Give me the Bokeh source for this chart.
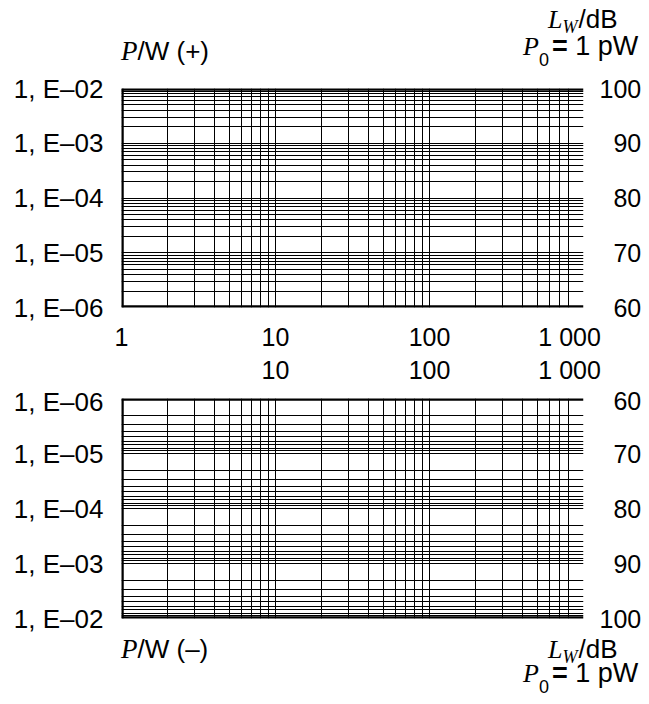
from bokeh.plotting import figure
from bokeh.models import (LogAxis, LinearAxis, Range1d, FixedTicker, Span,
                          LinearScale, Grid, Div)
from bokeh.layouts import column
from bokeh.embed import file_html
from bokeh.resources import INLINE

# ---------------- data ----------------
x_decade_ticks = [1, 10, 100, 1000]
x_labels_upper = ["1", "10", "100", "1 000"]
x_decade_ticks_lower = [10, 100, 1000]
x_labels_lower = ["10", "100", "1 000"]
x_grid_lines = [1, 2, 3, 4, 5, 6, 7, 8, 9,
                10, 20, 30, 40, 50, 60, 70, 80, 90,
                100, 200, 300, 400, 500, 600, 700, 800]
p_ticks = [1e-6, 1e-5, 1e-4, 1e-3, 1e-2]
p_labels = ["1, E–06", "1, E–05", "1, E–04", "1, E–03", "1, E–02"]
p_grid_lines = [1e-6, 2e-6, 3e-6, 4e-6, 5e-6, 6e-6, 7e-6, 8e-6, 9e-6,
                1e-5, 2e-5, 3e-5, 4e-5, 5e-5, 6e-5, 7e-5, 8e-5, 9e-5,
                1e-4, 2e-4, 3e-4, 4e-4, 5e-4, 6e-4, 7e-4, 8e-4, 9e-4,
                1e-3, 2e-3, 3e-3, 4e-3, 5e-3, 6e-3, 7e-3, 8e-3, 9e-3,
                1e-2]
lw_ticks = [60, 70, 80, 90, 100]
lw_labels = ["60", "70", "80", "90", "100"]

SANS = "Liberation Sans"
SERIF = "Liberation Serif"
TICK_SIZE = "25px"
FS = "\u2007"  # figure space used to right-align / shift labels
W = 644
BORDER_L = 121
BORDER_R = 60


def style_axis(ax, standoff, size=TICK_SIZE):
    ax.axis_line_color = None
    ax.major_tick_line_color = None
    ax.minor_tick_line_color = None
    ax.major_tick_in = 0
    ax.major_tick_out = 0
    ax.minor_tick_in = 0
    ax.minor_tick_out = 0
    ax.major_label_standoff = standoff
    ax.major_label_text_font = SANS
    ax.major_label_text_font_size = size
    ax.major_label_text_color = "black"


def xlab(lbl):
    return lbl + FS * 2 if lbl == "1 000" else lbl


def make_panel(y_start, y_end, lw_start, lw_end, height, top, bottom):
    p = figure(width=W, height=height, x_axis_type="log", y_axis_type="log",
               x_range=Range1d(1, 1000), y_range=Range1d(y_start, y_end),
               x_axis_location=None, y_axis_location=None,
               min_border_left=BORDER_L, min_border_right=BORDER_R,
               min_border_top=top, min_border_bottom=bottom,
               output_backend="svg", toolbar_location=None)
    p.outline_line_color = None
    p.background_fill_color = "white"
    p.border_fill_color = "white"
    p.grid.visible = False
    p.add_layout(Grid(dimension=0, ticker=FixedTicker(ticks=x_grid_lines),
                      grid_line_color="black", grid_line_width=1), "center")
    p.add_layout(Grid(dimension=1, ticker=FixedTicker(ticks=p_grid_lines),
                      grid_line_color="black", grid_line_width=1), "center")
    ly = LogAxis(ticker=FixedTicker(ticks=p_ticks),
                 major_label_overrides=dict(zip(p_ticks, p_labels)))
    style_axis(ly, 18, "26px")
    p.add_layout(ly, "left")
    p.extra_y_ranges = {"lw": Range1d(lw_start, lw_end)}
    p.extra_y_scales = {"lw": LinearScale()}
    ry = LinearAxis(y_range_name="lw", ticker=FixedTicker(ticks=lw_ticks),
                    major_label_overrides={t: FS * (3 - len(l)) + l
                                           for t, l in zip(lw_ticks, lw_labels)})
    style_axis(ry, 16)
    p.add_layout(ry, "right")
    # frame borders: top, bottom and left only (no right border)
    for loc in (1e-6, 1e-2):
        p.add_layout(Span(location=loc, dimension="width", line_color="black",
                          line_width=4.5))
    p.add_layout(Span(location=1, dimension="height", line_color="black",
                      line_width=4.5))
    return p


def st(family, size, italic=False, bold=False):
    s = f"font-family:'{family}';font-size:{size}px;fill:black;"
    s += "font-style:italic;" if italic else "font-style:normal;"
    s += "font-weight:bold;" if bold else "font-weight:normal;"
    return f'style="{s}"'


def title_block(height, sign, y_left, y_lw, y_p0):
    svg = (
        f'<svg xmlns="http://www.w3.org/2000/svg" width="{W}" height="{height}" '
        f'style="display:block;overflow:visible">'
        f'<text x="121" y="{y_left}" {st(SANS, 26)}>'
        f'<tspan {st(SERIF, 27, italic=True)}>P</tspan>'
        f'<tspan {st(SANS, 26)}>/W ({sign})</tspan></text>'
        f'<text x="548" y="{y_lw}" {st(SANS, 26)}>'
        f'<tspan {st(SERIF, 26, italic=True)}>L</tspan>'
        f'<tspan {st(SERIF, 18, italic=True)} dy="5">W</tspan>'
        f'<tspan {st(SANS, 26)} dy="-5" dx="1">/dB</tspan></text>'
        f'<text x="523" y="{y_p0}" {st(SANS, 27)}>'
        f'<tspan {st(SERIF, 26, italic=True)}>P</tspan>'
        f'<tspan {st(SANS, 18)} dy="11">0</tspan>'
        f'<tspan {st(SANS, 27, bold=True)} dy="-11" dx="3">=</tspan>'
        f'<tspan {st(SANS, 27)}> 1 pW</tspan></text>'
        f'</svg>'
    )
    return Div(text=svg, width=W, height=height, margin=0)


# ---------------- header ----------------
header = title_block(70, "+", 60, 28, 55)

# ---------------- upper panel (P positive) ----------------
p1 = make_panel(1e-6, 1e-2, 60, 100, 316, 18, 79)
ax_a = LogAxis(ticker=FixedTicker(ticks=x_decade_ticks),
               major_label_overrides={t: xlab(l) for t, l in zip(x_decade_ticks, x_labels_upper)})
style_axis(ax_a, 15)
p1.add_layout(ax_a, "below")
ax_b = LogAxis(ticker=FixedTicker(ticks=x_decade_ticks_lower),
               major_label_overrides={t: xlab(l) for t, l in zip(x_decade_ticks_lower, x_labels_lower)})
style_axis(ax_b, 2)
p1.add_layout(ax_b, "below")

# ---------------- lower panel (P negative, axis reversed) ----------------
p2 = make_panel(1e-2, 1e-6, 100, 60, 248, 12, 16)

# ---------------- footer ----------------
footer = title_block(64, "–", 24, 24, 48)

layout = column(header, p1, p2, footer)
open("out.html", "w").write(file_html(layout, INLINE))
